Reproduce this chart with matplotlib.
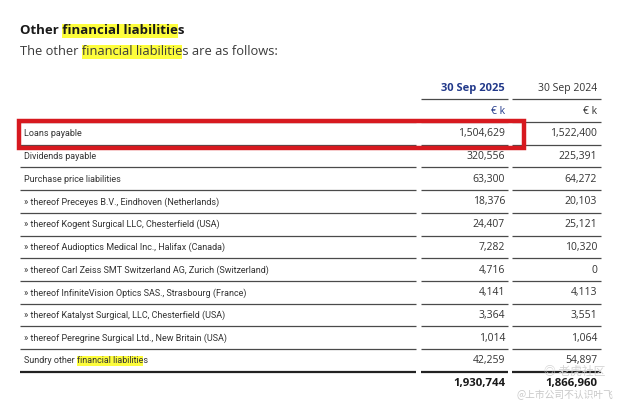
import matplotlib
matplotlib.use("Agg")
import matplotlib.pyplot as plt
from matplotlib.patches import Rectangle

plt.rcParams['font.family'] = ['Open Sans', 'DejaVu Sans']

# --- data ---
title_parts = ["Other ", "financial liabilitie", "s"]
subtitle_parts = ["The other ", "financial liabilitie", "s are as follows:"]
col_headers = ["30 Sep 2025", "30 Sep 2024"]
unit_label = "€ k"
row_labels = [
    "Loans payable",
    "Dividends payable",
    "Purchase price liabilities",
    "» thereof Preceyes B.V., Eindhoven (Netherlands)",
    "» thereof Kogent Surgical LLC, Chesterfield (USA)",
    "» thereof Audioptics Medical Inc., Halifax (Canada)",
    "» thereof Carl Zeiss SMT Switzerland AG, Zurich (Switzerland)",
    "» thereof InfiniteVision Optics SAS., Strasbourg (France)",
    "» thereof Katalyst Surgical, LLC, Chesterfield (USA)",
    "» thereof Peregrine Surgical Ltd., New Britain (USA)",
    "Sundry other financial liabilities",
]
values_2025 = [1504629, 320556, 63300, 18376, 24407, 7282, 4716, 4141, 3364, 1014, 42259]
values_2024 = [1522400, 225391, 64272, 20103, 25121, 10320, 0, 4113, 3551, 1064, 54897]
total_2025 = 1930744
total_2024 = 1866960
highlight_word = "financial liabilitie"

TEXT = "#333333"
BLUE = "#22398a"
LINE = "#4a4a4a"
YELLOW = "#fdfd3c"
RED = "#d7191f"

fig = plt.figure(figsize=(6.25, 4.07), dpi=100)
ax = fig.add_axes([0, 0, 1, 1])
ax.set_xlim(0, 625)
ax.set_ylim(407, 0)
ax.axis("off")
renderer = fig.canvas.get_renderer()


def text_width(s, **kw):
    # width in pixels; the bar keeps trailing spaces counted
    t = ax.text(0, 0, s + "|", **kw)
    w = t.get_window_extent(renderer).width
    t.remove()
    t = ax.text(0, 0, "|", **kw)
    w -= t.get_window_extent(renderer).width
    t.remove()
    return w


def highlighted(x, y, parts, hl_h, **kw):
    pre, hl, post = parts
    x0 = x + text_width(pre, **kw)
    x1 = x + text_width(pre + hl, **kw)
    ax.add_patch(Rectangle((x0, y - hl_h / 2), x1 - x0, hl_h,
                           facecolor=YELLOW, edgecolor="none", zorder=1))
    ax.text(x, y, pre + hl + post, va="center", ha="left", zorder=2, **kw)


highlighted(20, 30.5, title_parts, 14, fontsize=9.5, fontweight="bold", color="#1a1a1a")
highlighted(20, 51.5, subtitle_parts, 14, fontsize=9.3, color="#3a3a3a")

# column geometry
lab_x0, lab_x1 = 20, 416
c1_x0, c1_x1 = 421, 508
c2_x0, c2_x1 = 512, 601
c1_r, c2_r = 505, 597
fs = 7.5
lab_kw = dict(fontsize=6.5, family=['Roboto', 'DejaVu Sans'], color=TEXT)

# header
ax.text(c1_r, 88, col_headers[0], ha="right", va="center", fontsize=8,
        fontweight="bold", color=BLUE)
ax.text(c2_r, 88, col_headers[1], ha="right", va="center", fontsize=fs, color=TEXT)
ax.plot([c1_x0, c1_x1], [99, 99], color=LINE, lw=0.9, solid_capstyle="butt")
ax.plot([c2_x0, c2_x1], [99, 99], color=LINE, lw=0.9, solid_capstyle="butt")
ax.text(c1_r, 111.5, unit_label, ha="right", va="center", fontsize=fs, color=BLUE)
ax.text(c2_r, 111.5, unit_label, ha="right", va="center", fontsize=fs, color=TEXT)
for xa, xb in [(lab_x0, lab_x1), (c1_x0, c1_x1), (c2_x0, c2_x1)]:
    ax.plot([xa, xb], [122, 122], color=LINE, lw=0.9, solid_capstyle="butt")

# body rows
row_top = 122
row_h = 22.7
for i, label in enumerate(row_labels):
    yc = row_top + row_h * (i + 0.5) + 0.5
    yl = row_top + row_h * (i + 1)
    if highlight_word in label:
        k = label.index(highlight_word)
        parts = [label[:k], highlight_word, label[k + len(highlight_word):]]
        highlighted(24, yc, parts, 10, **lab_kw)
    else:
        ax.text(24, yc, label, ha="left", va="center", **lab_kw)
    ax.text(c1_r, yc, f"{values_2025[i]:,}", ha="right", va="center", fontsize=fs, color=TEXT)
    ax.text(c2_r, yc, f"{values_2024[i]:,}", ha="right", va="center", fontsize=fs, color=TEXT)
    last = i == len(row_labels) - 1
    for xa, xb in [(lab_x0, lab_x1), (c1_x0, c1_x1), (c2_x0, c2_x1)]:
        ax.plot([xa, xb], [yl, yl], color="#222222" if last else LINE,
                lw=1.6 if last else 0.9, solid_capstyle="butt")

# total row
yt = row_top + row_h * (len(row_labels) + 0.5)
ax.text(c1_r, yt, f"{total_2025:,}", ha="right", va="center", fontsize=8.2,
        fontweight="bold", color="#1a1a1a")
ax.text(c2_r, yt, f"{total_2024:,}", ha="right", va="center", fontsize=8.2,
        fontweight="bold", color="#1a1a1a")

# red marker box around the loans row
ax.add_patch(Rectangle((18.5, 121), 524 - 18.5, 26.5, fill=False, edgecolor=RED,
                       lw=3.2, joinstyle="miter", zorder=5))

# watermark
ax.text(575, 371, "◎ 老虎社区", ha="center", va="center", fontsize=8.5, color="#d4d4d4",
        family=['Noto Sans CJK SC', 'DejaVu Sans'], zorder=6)
ax.text(565, 395, "@上市公司不认识叶飞", ha="center", va="center", fontsize=7,
        color="#c8c8c8", family=['Noto Sans CJK SC', 'DejaVu Sans'], zorder=6)

fig.savefig("out.png", dpi=100)
